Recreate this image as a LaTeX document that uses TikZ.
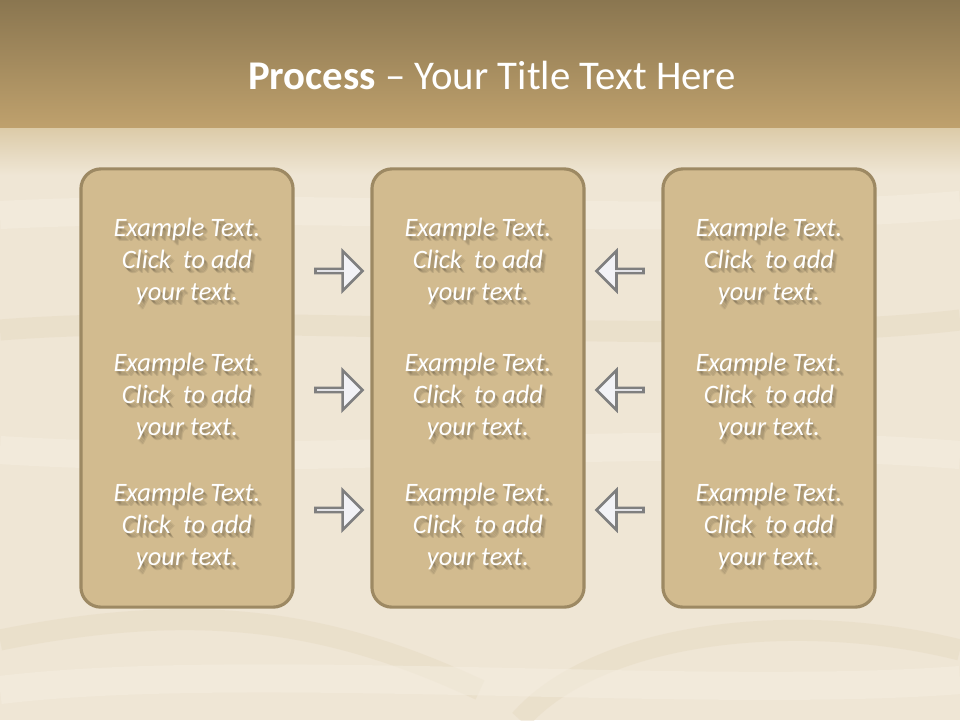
\documentclass[tikz,border=0pt]{standalone}
\usepackage{fontspec}
\setmainfont{Carlito}
\usetikzlibrary{shapes.arrows}

\definecolor{headtop}{HTML}{8A7650}
\definecolor{headbot}{HTML}{BFA16D}
\definecolor{woodlight}{HTML}{EFE6D5}
\definecolor{woodmid}{HTML}{DCCBA8}
\definecolor{woodgrain}{HTML}{E6D9C1}
\definecolor{woodpale}{HTML}{F5EEE1}
\definecolor{boxfill}{HTML}{D2BB8F}
\definecolor{boxline}{HTML}{9D8963}
\definecolor{arrowfill}{HTML}{F2F2F6}
\definecolor{arrowline}{HTML}{7F7F7F}

\tikzset{
  procbox/.style={draw=boxline, line width=0.9pt, fill=boxfill, rounded corners=0.2cm,
    minimum width=2.12cm, minimum height=4.38cm, inner sep=0pt},
  boxtext/.style={text=white, font=\fontsize{7.55}{9.1}\selectfont\itshape, align=center},
  boxshadow/.style={text=black, opacity=0.09, font=\fontsize{7.55}{9.1}\selectfont\itshape, align=center},
  blockarrow/.style={single arrow, draw=arrowline, line width=0.75pt, fill=arrowfill,
    minimum height=0.47cm, minimum width=0.40cm, single arrow head extend=0.11cm,
    single arrow head indent=0pt, inner sep=0pt},
  grain/.style={draw=woodgrain, line width=6pt, opacity=0.45},
  palegrain/.style={draw=woodpale, line width=8pt, opacity=0.5}
}

\newcommand{\exampletext}{Example Text.\\Click~ to add\\your text.}

\begin{document}
\begin{tikzpicture}[x=0.01cm, y=-0.01cm]
        % Background and header
        \useasboundingbox (0,0) rectangle (960,720);
        \fill[woodlight] (0,0) rectangle (960,720);
        \shade[top color=headtop, bottom color=headbot] (0,0) rectangle (960,128);
        \shade[top color=woodmid, bottom color=woodlight] (0,128) rectangle (960,175);

        % Faint wood grain
        \draw[palegrain] (0,215) .. controls (300,200) and (650,230) .. (960,205);
        \draw[grain] (0,330) .. controls (250,310) and (700,350) .. (960,320);
        \draw[palegrain] (0,450) .. controls (320,470) and (640,430) .. (960,455);
        \draw[grain] (0,640) .. controls (200,600) and (330,620) .. (480,690);
        \draw[grain] (520,720) .. controls (600,630) and (800,610) .. (960,650);
        \draw[palegrain] (0,690) .. controls (250,660) and (700,700) .. (960,680);

        % Title
        \node[text=white, font=\fontsize{11.6}{13}\selectfont] (title) at (492,75)
          {\textbf{Process} -- Your Title Text Here};

        % Three boxes
        \node[procbox] (leftbox) at (187,388) {};
        \node[procbox] (midbox) at (478,388) {};
        \node[procbox] (rightbox) at (769,388) {};

        % Box texts with soft shadow
        \foreach \bx/\px in {l/187, m/478, r/769} {
          \foreach \row/\py in {1/261, 2/396, 3/526} {
            \foreach \d in {1,2,3,4}
              \node[boxshadow] at (\px+\d,\py+\d+1) {\exampletext};
            \node[boxtext] (\bx\row) at (\px,\py) {\exampletext};
          }
        }

        % Arrows pointing into the middle box
        \foreach \row/\py in {1/271, 2/390, 3/510} {
          \node[blockarrow] (ra\row) at (338,\py) {};
          \node[blockarrow, shape border rotate=180] (la\row) at (621,\py) {};
        }
    \end{tikzpicture}
\end{document}
